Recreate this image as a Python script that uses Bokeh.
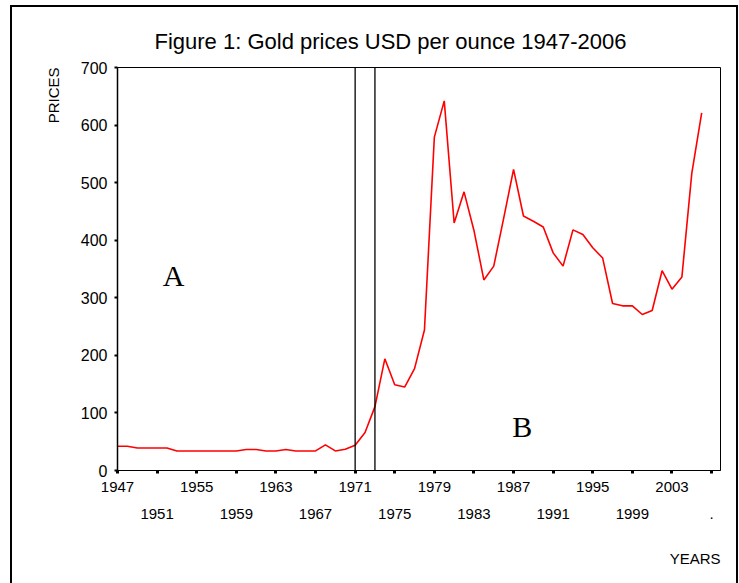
from bokeh.plotting import figure
from bokeh.models import Range1d, FixedTicker, LinearAxis, Label, Span, Title
from bokeh.embed import file_html
from bokeh.resources import INLINE

# ---- data ----
years = list(range(1947, 2007))
prices = [42, 42, 39, 39, 39, 39, 34, 34, 34, 34,
          34, 34, 34, 36.5, 36.5, 34, 34, 36.5, 34, 34,
          34, 44.5, 34, 37, 44, 66, 111, 194, 149, 145,
          177, 244, 579, 642, 430, 484, 417, 331, 355, 438,
          523, 442, 433, 423, 378, 355, 418, 410, 387, 369,
          290, 286, 286, 271, 278, 347, 315, 336, 516, 621]

title_text = "Figure 1: Gold prices USD per ounce 1947-2006"
row1_ticks = [1947, 1955, 1963, 1971, 1979, 1987, 1995, 2003]
row2_ticks = [1951, 1959, 1967, 1975, 1983, 1991, 1999, 2007]
row2_labels = ["1951", "1959", "1967", "1975", "1983", "1991", "1999", "."]
y_ticks = [0, 100, 200, 300, 400, 500, 600, 700]
regime_breaks = [1971, 1973]
y_label = "PRICES"
x_label = "YEARS"
region_labels = ["A", "B"]

FONT = "Liberation Sans"

p = figure(frame_width=603, frame_height=403,
           x_range=Range1d(1947, 2007.9), y_range=Range1d(0, 700),
           output_backend="svg", toolbar_location=None, x_axis_type=None,
           min_border_left=117, min_border_right=19,
           min_border_top=67, min_border_bottom=113)
p.background_fill_color = "white"
p.border_fill_color = None
p.outline_line_color = "black"
p.outline_line_width = 1
p.xgrid.visible = False
p.ygrid.visible = False

# outer frame of the figure (drawn as CSS background lines on the host element)
p.styles = {
    "background-color": "white",
    "background-image": "linear-gradient(#000,#000), linear-gradient(#000,#000), linear-gradient(#000,#000)",
    "background-size": "2px 600px, 727px 2px, 2px 600px",
    "background-position": "10px 5px, 10px 5px, 736px 5px",
    "background-repeat": "no-repeat",
}

# title
p.title.text = title_text
p.title.align = "left"
p.title.offset = 37
p.title.standoff = 28
p.title.text_font = FONT
p.title.text_font_size = "22px"
p.title.text_font_style = "normal"
p.title.text_color = "black"

# y axis
ya = p.yaxis[0]
ya.ticker = FixedTicker(ticks=y_ticks)
ya.axis_line_width = 1.5
ya.major_tick_out = 3
ya.major_tick_in = 0
ya.major_tick_line_width = 2
ya.minor_tick_line_color = None
ya.major_label_standoff = 7
ya.major_label_text_font = FONT
ya.major_label_text_font_size = "16px"
ya.major_label_text_color = "black"

# x axis, first row
all_ticks = sorted(row1_ticks + row2_ticks)
ax1 = LinearAxis(ticker=FixedTicker(ticks=all_ticks),
                 major_label_overrides={t: "" for t in row2_ticks})
ax1.axis_line_width = 1
ax1.major_tick_out = 3
ax1.major_tick_in = 0
ax1.major_tick_line_width = 3
ax1.minor_tick_line_color = None
ax1.major_label_standoff = 8
ax1.major_label_text_font = FONT
ax1.major_label_text_font_size = "15px"
ax1.major_label_text_color = "black"
p.add_layout(ax1, "below")

# x axis, second row
ax2 = LinearAxis(ticker=FixedTicker(ticks=row2_ticks),
                 major_label_overrides={t: l for t, l in zip(row2_ticks, row2_labels)})
ax2.axis_line_color = None
ax2.major_tick_line_color = None
ax2.major_tick_out = 0
ax2.major_tick_in = 0
ax2.minor_tick_line_color = None
ax2.major_label_standoff = 14
ax2.major_label_text_font = FONT
ax2.major_label_text_font_size = "15px"
ax2.major_label_text_color = "black"
p.add_layout(ax2, "below")

# axis titles
p.add_layout(Title(text=y_label, align="right", offset=0, standoff=32,
                   text_font=FONT, text_font_size="15px", text_font_style="normal",
                   text_color="black"), "left")
p.add_layout(Title(text=x_label, align="right", offset=0, standoff=52,
                   text_font=FONT, text_font_size="15px", text_font_style="normal",
                   text_color="black"), "below")

# price line
p.line(years, prices, line_color="red", line_width=1.6)

# regime break lines
for yr in regime_breaks:
    p.add_layout(Span(location=yr, dimension="height", line_color="black", line_width=1.3))

# region letters
p.add_layout(Label(x=1952.66, y=339, text=region_labels[0], text_font="Liberation Serif",
                   text_font_size="30px", text_color="black",
                   text_align="center", text_baseline="alphabetic"))
p.add_layout(Label(x=1987.87, y=76, text=region_labels[1], text_font="Liberation Serif",
                   text_font_size="30px", text_color="black",
                   text_align="center", text_baseline="alphabetic"))

open("out.html", "w").write(file_html(p, INLINE))
